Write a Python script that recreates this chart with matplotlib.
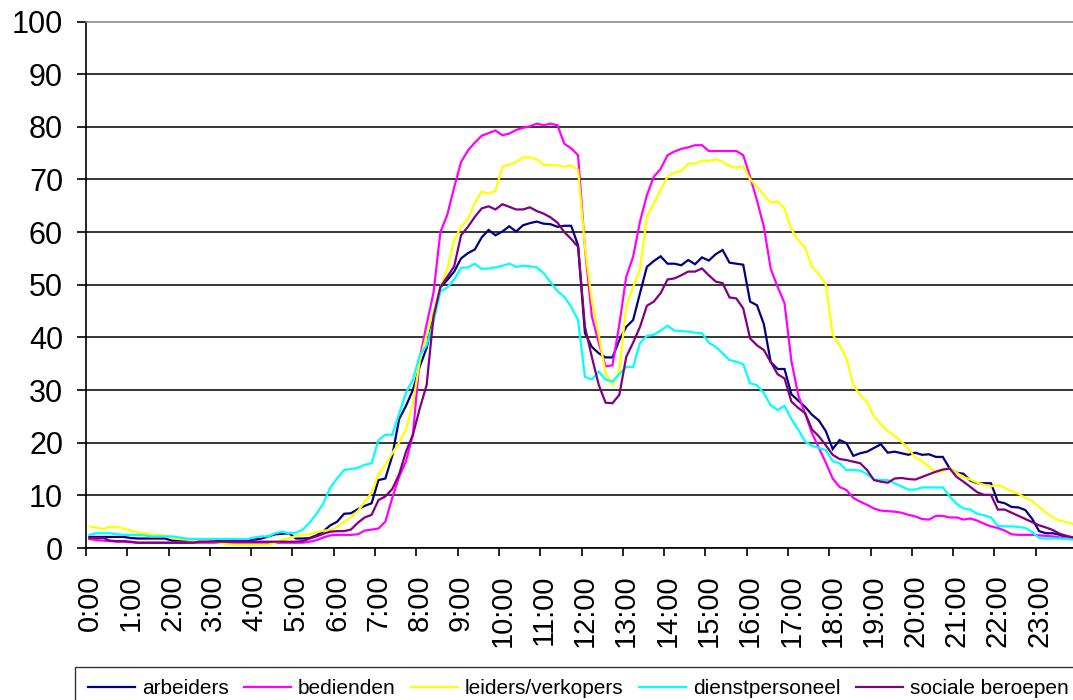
import numpy as np
import matplotlib
matplotlib.use('Agg')
import matplotlib.pyplot as plt

plt.rcParams['font.family'] = ['Liberation Sans', 'DejaVu Sans']

# Share (%) of each occupational group active, per 10-minute slot (0:00 .. 23:50)
arbeiders = [
    2.1, 2.1, 2.1, 2.1, 2.1, 2.1, 1.9, 1.8, 1.8, 1.8, 1.8, 1.8,
    1.4, 1.4, 1.4, 1.5, 1.5, 1.5, 1.5, 1.5, 1.5, 1.5, 1.5, 1.5,
    1.6, 1.8, 2.2, 2.6, 2.7, 2.8, 1.8, 1.8, 1.9, 2.4, 3.2, 4.3,
    5.0, 6.5, 6.6, 7.4, 8.0, 8.5, 12.9, 13.2, 17.5, 24.5, 27.0, 30.0,
    34.5, 38.0, 44.0, 49.5, 50.9, 52.5, 55.0, 56.0, 56.7, 59.0, 60.4, 59.4,
    60.1, 61.1, 60.1, 61.3, 61.7, 62.0, 61.6, 61.5, 61.0, 61.2, 61.2, 57.5,
    40.8, 38.2, 37.0, 36.2, 36.2, 39.5, 42.0, 43.3, 48.4, 53.4, 54.5, 55.4,
    54.0, 54.0, 53.7, 54.7, 53.9, 55.2, 54.6, 55.8, 56.6, 54.2, 54.0, 53.8,
    46.8, 46.1, 42.5, 35.3, 34.0, 34.0, 29.2, 28.0, 26.8, 25.3, 24.2, 22.2,
    18.8, 20.5, 19.9, 17.5, 18.0, 18.3, 19.0, 19.7, 18.1, 18.3, 18.0, 17.7,
    18.1, 17.7, 17.8, 17.3, 17.3, 15.1, 14.3, 14.1, 12.8, 12.3, 12.3, 12.3,
    8.8, 8.5, 7.8, 7.7, 7.2, 5.5, 3.2, 2.8, 2.8, 2.5, 2.0, 2.0,
]
bedienden = [
    1.7, 1.5, 1.4, 1.3, 1.2, 1.2, 1.1, 1.0, 1.0, 1.0, 1.0, 1.0,
    1.0, 1.0, 1.0, 1.0, 1.0, 1.0, 1.0, 1.0, 1.0, 1.0, 1.0, 1.0,
    1.0, 1.0, 1.0, 1.0, 1.0, 1.0, 1.0, 1.0, 1.2, 1.5, 2.0, 2.4,
    2.5, 2.5, 2.5, 2.6, 3.3, 3.5, 3.7, 5.0, 9.5, 13.5, 16.5, 21.5,
    36.0, 42.5, 48.5, 60.0, 63.3, 68.5, 73.3, 75.5, 77.0, 78.3, 78.8, 79.3,
    78.4, 78.7, 79.4, 79.8, 80.1, 80.6, 80.3, 80.6, 80.3, 76.8, 75.9, 74.6,
    57.0, 44.0, 39.0, 34.5, 34.7, 42.5, 51.5, 55.3, 62.0, 67.0, 70.5, 72.0,
    74.6, 75.3, 75.8, 76.1, 76.5, 76.5, 75.4, 75.4, 75.4, 75.4, 75.4, 74.6,
    70.5, 66.0, 61.0, 53.0, 49.6, 46.5, 35.5, 29.0, 25.5, 21.8, 19.0, 16.2,
    13.2, 11.6, 11.0, 9.5, 8.8, 8.2, 7.5, 7.1, 7.0, 6.9, 6.7, 6.3,
    6.0, 5.5, 5.4, 6.1, 6.1, 5.8, 5.8, 5.4, 5.6, 5.2, 4.6, 4.1,
    3.8, 3.3, 2.6, 2.5, 2.5, 2.5, 2.4, 2.3, 2.2, 2.0, 1.9, 1.8,
]
leiders_verkopers = [
    4.1, 3.9, 3.6, 4.0, 4.0, 3.7, 3.3, 3.0, 2.8, 2.6, 2.5, 2.3,
    1.9, 1.7, 1.6, 1.5, 1.4, 1.3, 1.2, 1.0, 0.7, 0.6, 0.6, 0.6,
    0.6, 0.6, 0.6, 1.0, 1.5, 1.9, 2.2, 2.5, 2.6, 3.0, 3.3, 3.4,
    4.0, 5.0, 5.8, 7.0, 8.8, 10.5, 14.0, 15.8, 18.0, 20.0, 22.5, 27.5,
    35.5, 40.5, 45.0, 49.5, 53.0, 58.5, 61.0, 62.5, 65.5, 67.7, 67.3, 67.8,
    72.4, 72.8, 73.3, 74.2, 74.2, 73.8, 72.8, 72.7, 72.7, 72.4, 72.7, 71.8,
    57.2, 47.0, 40.5, 33.2, 31.0, 33.8, 46.0, 49.5, 53.0, 63.0, 65.4, 68.0,
    70.5, 71.3, 71.6, 73.0, 73.0, 73.5, 73.5, 73.8, 73.4, 72.5, 72.3, 72.5,
    70.0, 68.7, 67.0, 65.6, 65.8, 64.5, 60.5, 58.5, 57.0, 53.4, 52.0, 50.0,
    40.5, 38.5, 36.0, 31.0, 29.0, 27.7, 25.0, 23.5, 22.2, 21.3, 20.2, 18.8,
    17.2, 16.4, 15.5, 14.3, 14.6, 15.1, 14.3, 13.5, 13.0, 12.4, 12.0, 11.7,
    12.0, 11.4, 10.8, 10.3, 9.5, 8.9, 7.8, 6.7, 5.8, 5.2, 4.9, 4.5,
]
dienstpersoneel = [
    2.5, 2.8, 2.8, 2.8, 2.6, 2.5, 2.5, 2.5, 2.4, 2.2, 2.2, 2.2,
    2.2, 2.0, 1.8, 1.7, 1.7, 1.7, 1.7, 1.7, 1.7, 1.7, 1.7, 1.7,
    2.0, 2.2, 2.2, 2.8, 3.1, 2.8, 2.9, 3.5, 4.8, 6.5, 8.5, 11.5,
    13.2, 14.8, 15.0, 15.2, 15.8, 16.1, 20.5, 21.5, 21.5, 25.5, 29.5, 32.0,
    36.6, 38.5, 43.0, 48.7, 49.5, 51.0, 53.2, 53.3, 54.0, 53.0, 53.1, 53.3,
    53.6, 54.0, 53.4, 53.6, 53.5, 53.3, 52.2, 50.5, 48.8, 47.7, 45.8, 43.3,
    32.5, 32.0, 33.5, 32.0, 31.6, 33.0, 34.4, 34.4, 38.9, 40.3, 40.5, 41.3,
    42.2, 41.3, 41.2, 41.1, 40.9, 40.8, 39.0, 38.2, 37.0, 35.7, 35.4, 34.9,
    31.3, 30.9, 29.4, 27.1, 26.2, 27.0, 24.5, 22.5, 20.2, 19.4, 19.0, 18.6,
    16.5, 16.1, 14.8, 14.8, 14.7, 14.0, 13.0, 12.9, 12.9, 12.3, 11.7, 11.1,
    11.1, 11.5, 11.5, 11.5, 11.5, 9.8, 8.4, 7.5, 7.3, 6.5, 6.2, 5.8,
    4.2, 4.1, 4.1, 4.0, 3.8, 3.0, 1.9, 1.8, 1.8, 1.8, 1.7, 1.6,
]
sociale_beroepen = [
    1.9, 1.9, 1.9, 1.4, 1.3, 1.3, 1.2, 1.0, 1.0, 1.0, 1.0, 1.0,
    1.0, 1.0, 1.0, 1.0, 1.2, 1.2, 1.2, 1.2, 1.2, 1.2, 1.2, 1.2,
    1.2, 1.2, 1.2, 1.2, 1.2, 1.2, 1.2, 1.3, 1.8, 2.2, 2.7, 3.1,
    3.2, 3.2, 3.5, 4.8, 5.8, 6.3, 9.1, 9.8, 11.2, 14.0, 18.3, 21.5,
    26.5, 31.0, 44.0, 49.6, 51.5, 53.5, 59.4, 61.0, 62.9, 64.5, 64.9, 64.3,
    65.3, 64.8, 64.3, 64.3, 64.7, 64.0, 63.5, 62.8, 61.8, 60.0, 58.7, 57.2,
    42.0, 36.3, 31.0, 27.6, 27.5, 29.1, 36.3, 39.0, 42.0, 46.0, 46.8, 48.4,
    51.0, 51.2, 51.8, 52.5, 52.5, 53.1, 51.8, 50.6, 50.3, 47.6, 47.4, 45.5,
    39.8, 38.5, 37.6, 35.3, 33.0, 32.2, 27.8, 26.6, 25.6, 22.5, 21.2, 19.5,
    17.7, 16.9, 16.7, 16.4, 16.1, 14.8, 12.9, 12.6, 12.4, 13.2, 13.3, 13.1,
    13.0, 13.5, 14.0, 14.5, 14.9, 15.1, 13.5, 12.6, 11.6, 10.6, 10.1, 10.1,
    7.3, 7.3, 6.7, 6.1, 5.5, 4.9, 4.3, 3.9, 3.4, 2.7, 2.3, 2.0,
]

hour_labels = [f"{h}:00" for h in range(24)]
series = [
    ('arbeiders', arbeiders, '#000080'),
    ('bedienden', bedienden, '#FF00FF'),
    ('leiders/verkopers', leiders_verkopers, '#FFFF00'),
    ('dienstpersoneel', dienstpersoneel, '#00FFFF'),
    ('sociale beroepen', sociale_beroepen, '#800080'),
]

n_slots = len(arbeiders)
slots = np.arange(n_slots)

fig = plt.figure(figsize=(10.73, 7.0), dpi=100)
# plot area runs a little past the right edge of the canvas
ax = fig.add_axes([86 / 1073, 152 / 700, 991 / 1073, 526.5 / 700])

for name, vals, col in series:
    ax.plot(slots, vals, color=col, linewidth=1.6, label=name,
            solid_joinstyle='miter')

ax.set_xlim(-0.5, n_slots - 0.5)
ax.set_ylim(0, 100)

# category axis: tick marks on the slot boundaries, hour labels on the slots
ax.set_xticks(np.arange(-0.5, n_slots, 6))
ax.set_xticklabels([])
ax.set_xticks(np.arange(0, n_slots, 6), hour_labels, minor=True)
ax.tick_params(axis='x', which='major', direction='out', length=6, width=1.2,
               color='black')
ax.tick_params(axis='x', which='minor', length=0, pad=19, labelsize=21,
               labelrotation=90)

ax.set_yticks(np.arange(0, 101, 10))
ax.tick_params(axis='y', direction='out', length=6.5, width=1.2,
               labelsize=22, pad=10)

ax.yaxis.grid(True, color='black', linewidth=1.1)
ax.get_ygridlines()[-1].set_visible(False)
ax.set_axisbelow(True)

for side in ('left', 'bottom'):
    ax.spines[side].set_color('black')
    ax.spines[side].set_linewidth(1.2)
ax.spines['top'].set_color('#808080')
ax.spines['top'].set_linewidth(1.1)
ax.spines['right'].set_color('#808080')

# legend box is cut by the bottom edge of the canvas
leg = fig.legend(loc='upper left', bbox_to_anchor=(75 / 1073, 1 - 667 / 700),
                 ncol=5, fontsize=15, frameon=True, fancybox=False,
                 edgecolor='black', borderpad=0.6, borderaxespad=0,
                 handlelength=2.26, handletextpad=0.34, columnspacing=0.73)
leg.get_frame().set_linewidth(1.0)
for line in leg.get_lines():
    line.set_linewidth(1.6)

fig.savefig('out.png', dpi=100)
